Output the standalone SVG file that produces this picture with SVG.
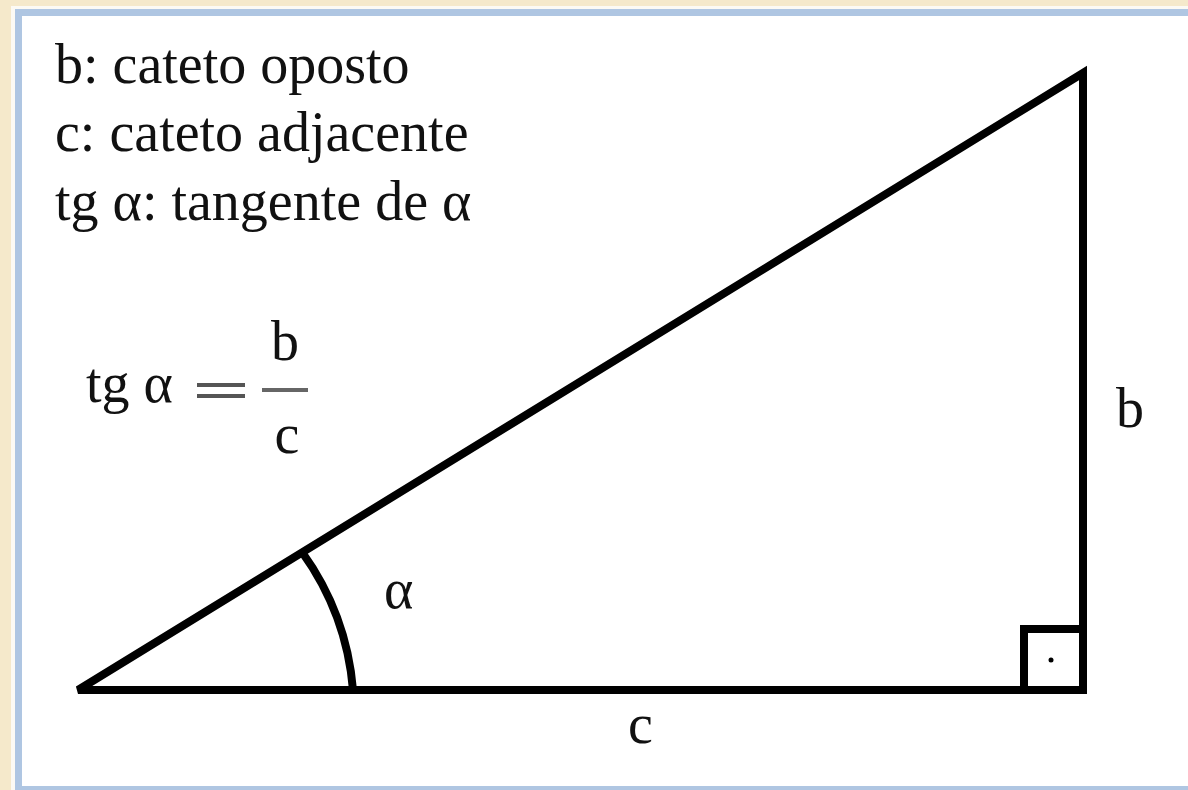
<svg xmlns="http://www.w3.org/2000/svg" width="1188" height="790" viewBox="0 0 1188 790">
<style>
.t{font-family:"Liberation Serif","Times New Roman",serif;font-size:56px;fill:#111}
.ln{stroke:#000;stroke-width:8;fill:none}
</style>
<rect x="0" y="0" width="1188" height="790" fill="#f5e9cb"/>
<rect x="11" y="6" width="1177" height="784" fill="#fcfaf4"/>
<rect x="15" y="9" width="1173" height="781" fill="#afc6e2"/>
<rect x="22" y="16" width="1166" height="770" fill="#ffffff"/>
<g id="legend">
<text class="t" x="55" y="83">b: cateto oposto</text>
<text class="t" x="55" y="151">c: cateto adjacente</text>
<text class="t" x="55" y="220">tg α: tangente de α</text>
</g>
<g id="formula">
<text class="t" x="86" y="402">tg α</text>
<rect x="197" y="383" width="48" height="4" fill="#555"/>
<rect x="197" y="394" width="48" height="4" fill="#555"/>
<rect x="262" y="388" width="46" height="4" fill="#666"/>
<text class="t" x="285" y="360" text-anchor="middle">b</text>
<text class="t" x="287" y="453" text-anchor="middle">c</text>
</g>
<g id="triangle">
<path class="ln" d="M78 690 L1083 690 L1083 73 Z" stroke-linejoin="miter" stroke-miterlimit="2.1"/>
<rect class="ln" x="1024" y="629" width="59" height="61" stroke-width="7"/>
<circle cx="1051" cy="660" r="2.5" fill="#000"/>
<path class="ln" d="M353 690 A275 275 0 0 0 302 552" stroke-width="6"/>
</g>
<g id="labels">
<text class="t" x="384" y="608">α</text>
<text class="t" x="1116" y="427">b</text>
<text class="t" x="628" y="743">c</text>
</g>
</svg>
